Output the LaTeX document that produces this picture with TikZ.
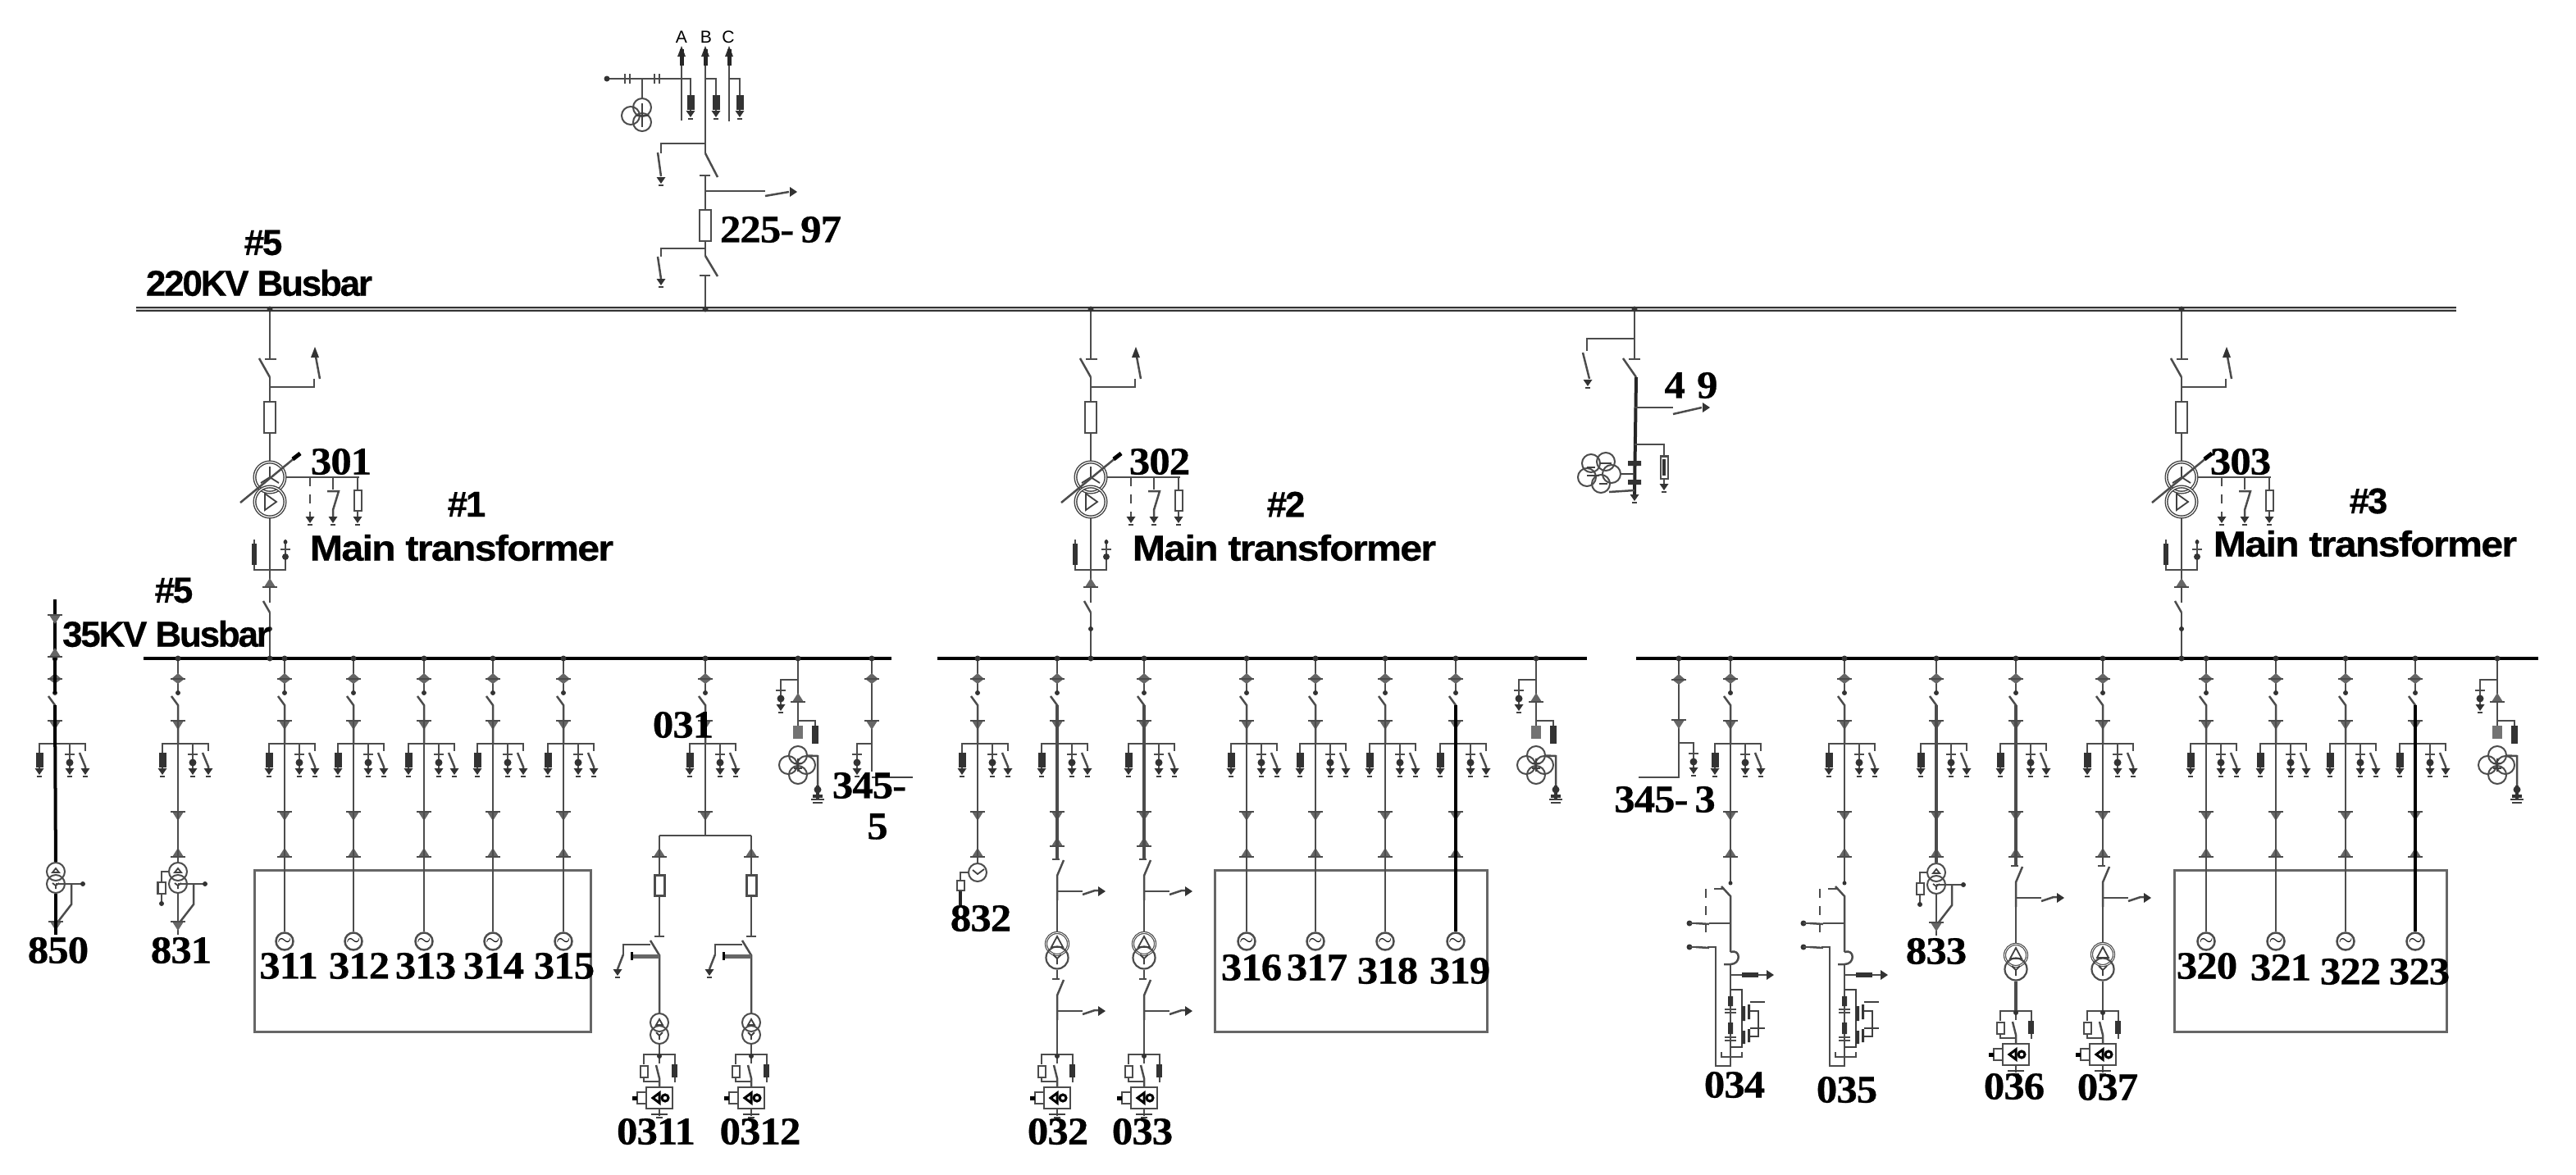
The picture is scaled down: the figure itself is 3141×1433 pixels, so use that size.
\documentclass[tikz,border=0pt]{standalone}
\usepackage{fontspec}
\newfontfamily\numfont[BoldFeatures={FakeBold=0.6},FakeStretch=1.07,LetterSpace=-2]{Liberation Serif}
\newfontfamily\wordfont[BoldFeatures={FakeBold=0.5},LetterSpace=-5]{Liberation Sans}
\newfontfamily\mainfont[BoldFeatures={FakeBold=0.5},FakeStretch=1.1,LetterSpace=-4]{Liberation Sans}
\newfontfamily\phasefont{Liberation Sans}
\begin{document}
\begin{tikzpicture}[x=0.01cm,y=-0.01cm,
wire/.style={draw=black!70,line width=0.025cm},
mid_wire/.style={draw=black!70,line width=0.034cm},
heavy_wire/.style={draw=black,line width=0.04cm},
thin_wire/.style={draw=black!75,line width=0.018cm},
dash_wire/.style={draw=black!70,line width=0.025cm,dashed},
bus_main/.style={draw=black!80,line width=0.02cm,double=black!20,double distance=0.027cm},
bus_low/.style={draw=black,line width=0.045cm},
dark_fill/.style={fill=black!80},
ct_fill/.style={fill=black!60},
group_box/.style={rectangle,draw=black!60,line width=0.03cm,inner sep=0pt},
box_large/.style={rectangle,draw=black!70,line width=0.022cm,fill=white,inner sep=0pt,minimum width=0.14cm,minimum height=0.38cm},
box_mid/.style={rectangle,draw=black!70,line width=0.03cm,fill=white,inner sep=0pt,minimum width=0.12cm,minimum height=0.25cm},
box_small/.style={rectangle,draw=black!70,line width=0.02cm,fill=white,inner sep=0pt,minimum width=0.09cm,minimum height=0.14cm},
box_relay/.style={rectangle,draw=black!70,line width=0.025cm,inner sep=0pt,minimum width=0.32cm,minimum height=0.26cm},
trafo_main/.style={circle,draw=black!75,line width=0.014cm,double,double distance=0.012cm,inner sep=0pt,minimum size=0.37cm},
trafo_style/.style={circle,draw=black!70,line width=0.02cm,inner sep=0pt,minimum size=0.22cm},
trafo_large/.style={circle,draw=black!70,line width=0.022cm,inner sep=0pt,minimum size=0.27cm},
trafo_ring/.style={trafo_large,line width=0.012cm,double,double distance=0.008cm},
gen_style/.style={circle,draw=black!70,line width=0.025cm,inner sep=0pt,minimum size=0.21cm,font=\tiny},
num_style/.style={inner sep=0pt,font=\numfont\fontsize{13.5pt}{14pt}\selectfont\bfseries},
word_style/.style={inner sep=0pt,font=\wordfont\fontsize{12.5pt}{14pt}\selectfont\bfseries},
main_style/.style={inner sep=0pt,font=\mainfont\fontsize{12.5pt}{14pt}\selectfont\bfseries},
phase_style/.style={inner sep=0pt,font=\phasefont\fontsize{6pt}{7pt}\selectfont},
tip_up/.pic={\fill[dark_fill] (0,0) -- (5,13) -- (-5,13) -- cycle;},
tip_down/.pic={\fill[dark_fill] (-5.5,0) -- (5.5,0) -- (0,8) -- cycle; \draw[thin_wire] (-3,10) -- (3,10);},
tip_right/.pic={\fill[dark_fill] (0,-6) -- (0,6) -- (9,0) -- cycle;},
ct_up/.pic={\fill[ct_fill] (0,-8) -- (7,3) -- (-7,3) -- cycle; \draw[wire] (-9,3) -- (9,3);},
ct_down/.pic={\fill[ct_fill] (0,8) -- (7,-3) -- (-7,-3) -- cycle; \draw[wire] (-9,-3) -- (9,-3);},
ct_both/.pic={\fill[ct_fill] (0,-7) -- (8,0) -- (0,6) -- (-8,0) -- cycle; \draw[wire] (-9,0) -- (9,0);},
arrester_unit/.pic={\draw[wire] (0,0) -- (0,32); \fill[dark_fill] (-4.5,11) rectangle (4.5,29); \pic at (0,30) {tip_down};},
cap_unit/.pic={\draw[wire] (0,0) -- (0,32); \draw[wire] (-6,13) -- (6,13); \fill[dark_fill] (0,23) circle[radius=4.5]; \pic at (0,30) {tip_down};},
sw_unit/.pic={\draw[wire] (0,0) -- (0,9); \draw[wire] (-7,11) -- (0,28) -- (0,32); \pic at (0,30) {tip_down};},
feeder_gear/.pic={\draw[wire] (0,0) -- (0,42); \fill[dark_fill] (0,0) circle[radius=3.5]; \fill[dark_fill] (0,42) circle[radius=3]; \pic at (0,25) {ct_both}; \draw[wire] (-8,46) -- (0,57) -- (0,104); \pic at (0,79) {ct_down}; \draw[wire] (-19,115) -- (-19,104) -- (37,104) -- (37,112); \pic at (-19,104) {arrester_unit}; \pic at (18,104) {cap_unit}; \pic at (37,104) {sw_unit};},
feeder_cts/.pic={\pic at (0,0) {ct_down}; \pic at (0,49) {ct_up};},
gen_feeder/.pic={\pic at (0,0) {feeder_gear}; \pic at (0,190) {feeder_cts}; \coordinate (k) at (0,57); \node[gen_style] (g) at (0,345) {$\sim$}; \draw[wire] (k) -- (g);},
local_xfmr/.pic={\node[trafo_style] (a) at (0,0) {}; \node[trafo_style] (b) at (0,15) {}; \draw[thin_wire] (-4,1) -- (0,-4) -- (4,1) -- cycle; \draw[thin_wire] (-4,14) -- (0,17) -- (4,14) (0,17) -- (0,21); \draw[wire] (b) -- (0,77); \draw[wire] (0,15) -- (33,15); \fill[dark_fill] (33,15) circle[radius=3]; \draw[wire] (19,15) -- (19,40) -- (2,62); \pic at (0,64) {ct_down};},
local_fuse/.pic={\draw[wire] (-10,0) -- (-20,0) -- (-20,12); \node[box_small] (f) at (-20,20) {}; \draw[wire] (f) -- (-20,39); \fill[dark_fill] (-20,39) circle[radius=3];},
switch_tap/.pic={\draw[wire] (-6,0) -- (3,0); \draw[wire] (8,1) -- (0,20) -- (0,50); \draw[wire] (0,39) -- (31,39); \draw[wire] (31,43) -- (46,38) -- (50,38); \pic at (50,39) {tip_right};},
relay_unit/.pic={\draw[wire] (-19,12) -- (-19,0) -- (19,0) -- (19,12); \draw[wire] (0,0) -- (0,11); \draw[wire] (-4,13) -- (0,29) -- (0,40); \fill[dark_fill] (0,2) circle[radius=3]; \node[box_small] (f) at (-19,21) {}; \draw[wire] (f) -- (-19,33) -- (0,33); \fill[dark_fill] (15,12) rectangle (22,28); \draw[wire] (19,28) -- (19,34); \node[box_relay] (r) at (0,53) {}; \draw[wire] (r.west |- 0,46) -- (-27,46) -- (-27,60) -- (r.west |- 0,60); \draw[line width=0.05cm,black] (-27,53) -- (-33,53); \draw[line width=0.03cm,black] (-8,53) -- (0,47) -- (0,59) -- cycle; \draw[line width=0.03cm,black] (7,53) circle[radius=4]; \draw[wire] (r) -- (0,75); \draw[thin_wire] (-10,73) -- (10,73); \draw[thin_wire] (-4,77) -- (4,77);},
aux_column/.pic={\pic at (0,0) {switch_tap}; \node[trafo_ring] (a) at (0,103) {}; \node[trafo_large] (b) at (0,120) {}; \draw[thin_wire] (-7,107) -- (0,94) -- (7,107) -- cycle; \draw[thin_wire] (-5,116) -- (0,121) -- (5,116) (0,121) -- (0,128); \draw[wire] (0,50) -- (a); \draw[wire] (b) -- (0,146); \pic at (0,146) {switch_tap}; \draw[wire] (0,196) -- (0,238); \pic at (0,238) {relay_unit};},
split_leg/.pic={\pic at (0,23) {ct_up}; \node[box_mid] (s) at (0,61) {}; \draw[wire] (0,0) -- (s); \draw[wire] (s) -- (0,123); \draw[wire] (-6,123) -- (6,123); \node[trafo_style] (a) at (0,228) {}; \node[trafo_style] (b) at (0,243) {}; \draw[wire] (-11,128) -- (0,146) -- (a); \draw[wire] (-11,133) -- (-44,133) -- (-44,145); \draw[wire] (-44,145) -- (-51,163); \pic at (-51,163) {tip_down}; \draw[line width=0.05cm,black!60] (0,147) -- (-34,147); \draw[line width=0.03cm,black] (-34,142) -- (-34,152); \draw[thin_wire] (-4,231) -- (0,224) -- (4,231) -- cycle; \draw[thin_wire] (-4,240) -- (0,244) -- (4,240) (0,244) -- (0,249); \draw[wire] (b) -- (0,267); \pic at (0,267) {relay_unit};},
pt_cluster/.pic={\draw[wire] (0,0) -- (0,86); \fill[dark_fill] (0,0) circle[radius=3.5]; \draw[wire] (0,26) -- (-21,26) -- (-21,32); \pic at (-21,26) {cap_unit}; \pic at (0,50) {ct_up}; \draw[wire] (0,76) -- (21,76) -- (21,84); \fill[dark_fill] (17,82) rectangle (25,104); \fill[black!55] (-6,82) rectangle (6,98); \node[trafo_style] (a) at (0,118) {}; \node[trafo_style] (b) at (0,142) {}; \node[trafo_style] (c) at (-12,130) {}; \node[trafo_style] (d) at (10,130) {}; \draw[thin_wire] (-5,128) -- (5,128) (-5,134) -- (5,134) (0,122) -- (0,138); \draw[wire] (a) -- (24,119) -- (24,155); \fill[dark_fill] (24,160) circle[radius=4.5]; \draw[line width=0.035cm,black!80] (18,168) -- (30,168) (24,155) -- (24,172); \draw[thin_wire] (16,172) -- (32,172) (18,176) -- (30,176);},
reactor_column/.pic={\draw[wire] (0,-34) -- (0,0); \fill[dark_fill] (0,0) circle[radius=2.5]; \draw[wire] (-11,4) -- (0,16) -- (0,84); \draw[dash_wire] (-9,7) -- (-30,7) -- (-30,66); \draw[wire] (0,49) -- (-26,49); \draw[wire] (-26,50) -- (-42,49); \draw[wire] (-26,79) -- (-42,78); \fill[dark_fill] (-50,49) circle[radius=3.5]; \draw[wire] (-50,49) -- (-42,49); \fill[dark_fill] (-50,78) circle[radius=3.5]; \draw[wire] (-50,78) -- (-42,78); \draw[wire] (-28,78) -- (-18,78) -- (-18,223) -- (0,223) -- (0,99); \draw[wire] (0,84) .. controls (13,80) and (13,99) .. (0,99) -- (-8,99); \draw[wire] (0,112) -- (44,112); \fill[dark_fill] (14,109) rectangle (34,115); \pic at (44,112) {tip_right}; \draw[thin_wire] (0,130) -- (14,130) -- (14,200) -- (0,200); \fill[dark_fill] (-3,138) rectangle (3,150) (-3,170) rectangle (3,184); \draw[wire] (-7,154) -- (7,154) (-7,158) -- (7,158) (-7,188) -- (7,188) (-7,192) -- (7,192); \fill[dark_fill] (14,150) rectangle (18,168) (21,148) rectangle (24,166) (14,180) rectangle (18,196) (21,178) rectangle (24,194); \draw[thin_wire] (24,145) -- (42,145) (24,177) -- (42,177) (24,156) -- (34,156) -- (34,187) -- (24,187); \draw[wire] (-11,206) -- (-11,212) -- (14,212) -- (14,206);},
main_branch/.pic={\draw[wire] (0,0) -- (0,61); \fill[dark_fill] (0,0) circle[radius=3.5]; \draw[wire] (-6,61) -- (8,61); \draw[wire] (-13,60) -- (0,83); \coordinate (k) at (0,83); \node[box_large] (s) at (0,132) {}; \node[trafo_main] (a) at (0,205) {}; \node[trafo_main] (b) at (0,235) {}; \draw[wire] (k) -- (s); \draw[wire] (s) -- (a); \draw[wire] (0,95) -- (54,95) -- (54,85); \draw[wire] (61,85) -- (56,58); \pic at (55,46) {tip_up}; \draw[thin_wire] (0,205) -- (0,192) (0,205) -- (-11,212) (0,205) -- (11,212); \draw[thin_wire] (-6,225) -- (8,235) -- (-6,245) -- cycle; \draw[wire] (-36,236) -- (37,176); \draw[line width=0.05cm,black] (28,183) -- (37,176); \draw[wire] (a.east) -- (109,205); \draw[dash_wire] (49,205) -- (49,253); \pic at (49,253) {tip_down}; \draw[wire] (77,205) -- (77,220); \draw[wire] (70,222) -- (84,222) -- (77,245) -- (77,253); \pic at (77,253) {tip_down}; \draw[wire] (107,205) -- (107,253); \node[box_small,minimum height=0.25cm] (f) at (107,233) {}; \pic at (107,253) {tip_down}; \coordinate (k2) at (0,358); \coordinate (k3) at (0,370); \coordinate (e) at (0,426); \draw[wire] (b) -- (k2); \draw[wire] (k3) -- (e); \draw[wire] (-8,356) -- (k3); \draw[wire] (-19,281) -- (-19,318) -- (19,318) -- (19,281); \fill[dark_fill] (-22,286) rectangle (-16,312); \draw[wire] (13,293) -- (25,293); \fill[dark_fill] (19,302) circle[radius=4] (19,284) circle[radius=2.5]; \pic at (0,336) {ct_up}; \fill[dark_fill] (0,390) circle[radius=3] (0,426) circle[radius=3.5];}]
\useasboundingbox (0,0) rectangle (3141,1433);
\coordinate (bus220w) at (166,377);
\coordinate (bus220e) at (2995,377);
\coordinate (bus35a) at (175,803);
\coordinate (bus35b) at (1087,803);
\coordinate (bus35c) at (1143,803);
\coordinate (bus35d) at (1935,803);
\coordinate (bus35e) at (1995,803);
\coordinate (bus35f) at (3095,803);
\node[group_box,minimum width=4.09cm,minimum height=1.96cm] (box1) at (515.5,1160) {};
\node[group_box,minimum width=3.31cm,minimum height=1.96cm] (box2) at (1647.5,1160) {};
\node[group_box,minimum width=3.31cm,minimum height=1.96cm] (box3) at (2817.5,1160) {};
\draw[bus_main] (bus220w) -- (bus220e);
\draw[bus_low] (bus35a) -- (bus35b);
\draw[bus_low] (bus35c) -- (bus35d);
\draw[bus_low] (bus35e) -- (bus35f);
\coordinate (pa) at (831,60);
\coordinate (pb) at (860,60);
\coordinate (pc) at (889,60);
\coordinate (pa_end) at (831,147);
\coordinate (pc_end) at (889,148);
\coordinate (pb_end) at (860,187);
\coordinate (lk1) at (875,216);
\coordinate (lt1) at (860,214);
\node[box_large] (b297) at (860,275) {};
\coordinate (lk2) at (875,337);
\coordinate (lt2) at (860,336);
\coordinate (la) at (860,377);
\node[phase_style] (na) at (831,45) {A};
\node[phase_style] (nb) at (861,45) {B};
\node[phase_style] (nc) at (888,45) {C};
\draw[wire] (pa) -- (pa_end);
\draw[wire] (pb) -- (pb_end);
\draw[wire] (pc) -- (pc_end);
\pic at (831,56) {tip_up};
\pic at (860,56) {tip_up};
\pic at (889,56) {tip_up};
\draw[line width=0.05cm,black!85] (831,60) -- (831,80) (860,60) -- (860,80) (889,60) -- (889,80);
\draw[wire] (740,96) -- (831,96) -- (842,96) -- (842,110);
\draw[wire] (860,96) -- (873,96) -- (873,110);
\draw[wire] (889,96) -- (902,96) -- (902,110);
\pic at (842,105) {arrester_unit};
\pic at (873,105) {arrester_unit};
\pic at (902,105) {arrester_unit};
\fill[dark_fill] (740,96) circle[radius=3.5];
\draw[wire] (762,90) -- (762,102) (768,90) -- (768,102) (798,90) -- (798,102) (804,90) -- (804,102);
\node[trafo_style] (c1) at (769,141) {};
\node[trafo_style] (c2) at (783,131) {};
\node[trafo_style] (c3) at (783,149) {};
\draw[wire] (783,96) -- (c2);
\draw[thin_wire] (776,141) -- (791,141) (783,126) -- (783,155);
\draw[wire] (pb_end) -- (lk1);
\draw[wire] (853,214) -- (866,214);
\draw[wire] (lt1) -- (b297);
\draw[wire] (860,175) -- (806,175) -- (806,187);
\draw[wire] (802,186) -- (806,215);
\pic at (806,216) {tip_down};
\draw[wire] (860,233) -- (933,233);
\draw[wire] (933,239) -- (962,234);
\pic at (963,234) {tip_right};
\draw[wire] (b297) -- (860,312);
\draw[wire] (860,312) -- (lk2);
\draw[wire] (853,336) -- (866,336);
\draw[wire] (lt2) -- (la);
\fill[dark_fill] (la) circle[radius=3.5];
\draw[wire] (860,303) -- (806,303) -- (806,313);
\draw[wire] (802,313) -- (806,340);
\pic at (806,340) {tip_down};
\pic (t1) at (329,377) {main_branch};
\pic (t2) at (1330,377) {main_branch};
\pic (t3) at (2660,377) {main_branch};
\coordinate (col49) at (1993,377);
\coordinate (col49e) at (1993,603);
\draw[wire] (col49) -- (1993,438);
\fill[dark_fill] (col49) circle[radius=3.5];
\draw[wire] (1986,438) -- (2000,438);
\draw[wire] (1979,437) -- (1995,460);
\draw[heavy_wire,draw=black!85] (1995,460) -- (col49e);
\pic at (1993,603) {tip_down};
\draw[wire] (1993,413) -- (1935,413) -- (1935,428);
\draw[wire] (1930,430) -- (1938,462);
\pic at (1936,463) {tip_down};
\draw[wire] (1993,497) -- (2040,497);
\draw[wire] (2040,505) -- (2075,497);
\pic at (2076,497) {tip_right};
\draw[wire] (1993,542) -- (2029,542) -- (2029,556);
\node[box_small,minimum height=0.27cm] (f49) at (2029,570) {};
\fill[dark_fill] (2027,560) rectangle (2031,580);
\draw[wire] (f49) -- (2029,590);
\pic at (2029,590) {tip_down};
\fill[dark_fill] (1985,562) rectangle (2001,568) (1985,585) rectangle (2001,591);
\node[trafo_style] (q1) at (1940,565) {};
\node[trafo_style] (q2) at (1958,563) {};
\node[trafo_style] (q3) at (1935,582) {};
\node[trafo_style] (q4) at (1965,578) {};
\node[trafo_style] (q5) at (1952,590) {};
\draw[thin_wire] (q4) -- (1993,578);
\draw[wire] (1962,600) -- (1993,598);
\draw[thin_wire] (1935,570) -- (1945,570) (1950,565) -- (1965,565) (1935,580) -- (1950,580) (1950,590) -- (1960,590);
\coordinate (x850t) at (67,731);
\coordinate (x850k) at (67,860);
\pic at (67,803) {feeder_gear};
\pic (x850) at (68,1063) {local_xfmr};
\draw[heavy_wire] (x850t) -- (67,846);
\draw[heavy_wire] (x850k) -- (x850a);
\draw[heavy_wire] (x850b) -- (68,1140);
\pic at (67,753) {ct_down};
\pic at (67,798) {ct_up};
\node[num_style] (n850) at (71,1159) {850};
\pic (f831) at (217,803) {feeder_gear};
\pic at (217,993) {feeder_cts};
\pic (x831) at (217,1063) {local_xfmr};
\pic at (217,1063) {local_fuse};
\coordinate (f831k) at (217,860);
\draw[wire] (f831k) -- (x831a);
\node[num_style] (n831) at (221,1159) {831};
\pic (f311) at (347,803) {gen_feeder};
\node[num_style] (n311) at (352,1178) {311};
\pic (f312) at (431,803) {gen_feeder};
\node[num_style] (n312) at (438,1178) {312};
\pic (f313) at (517,803) {gen_feeder};
\node[num_style] (n313) at (519,1178) {313};
\pic (f314) at (601,803) {gen_feeder};
\node[num_style] (n314) at (602,1178) {314};
\pic (f315) at (687,803) {gen_feeder};
\node[num_style] (n315) at (688,1178) {315};
\pic (f031) at (860,803) {feeder_gear};
\pic at (860,993) {ct_down};
\coordinate (f031k) at (860,860);
\coordinate (f031s) at (860,1019);
\draw[wire] (f031k) -- (f031s);
\coordinate (leg1) at (804,1019);
\coordinate (leg2) at (916,1019);
\draw[wire] (leg1) -- (leg2);
\pic (p0311) at (804,1019) {split_leg};
\pic (p0312) at (916,1019) {split_leg};
\node[num_style] (n031) at (833,884) {031};
\node[num_style] (n0311) at (800,1380) {0311};
\node[num_style] (n0312) at (927,1380) {0312};
\pic (pt1) at (973,803) {pt_cluster};
\coordinate (c345a) at (1063,803);
\coordinate (c345b) at (1063,941);
\coordinate (c345c) at (1113,948);
\coordinate (c345d) at (1063,948);
\draw[wire] (c345a) -- (c345b);
\fill[dark_fill] (c345a) circle[radius=3.5];
\pic at (1063,828) {ct_both};
\pic at (1063,882) {ct_down};
\draw[wire] (1063,907) -- (1045,907) -- (1045,912);
\pic at (1045,907) {cap_unit};
\draw[thin_wire] (c345d) -- (c345c);
\node[num_style] (n345a) at (1060,958) {345-};
\node[num_style] (n345b) at (1070,1008) {5};
\pic (f832) at (1192,803) {feeder_gear};
\pic at (1192,993) {feeder_cts};
\node[trafo_style] (g832) at (1192,1064) {};
\coordinate (f832k) at (1192,860);
\draw[wire] (f832k) -- (g832);
\draw[thin_wire] (1186,1061) -- (1192,1066) -- (1200,1060);
\node[box_small,minimum height=0.12cm] (b832) at (1171,1080) {};
\draw[wire] (g832) -- (1171,1064) -- (b832);
\draw[heavy_wire,draw=black!85] (b832) -- (1171,1104);
\node[num_style] (n832) at (1196,1120) {832};
\pic (f032) at (1289,803) {feeder_gear};
\pic at (1289,993) {ct_down};
\pic at (1289,1029) {ct_up};
\coordinate (f032k) at (1289,860);
\coordinate (f032s) at (1289,1048);
\draw[mid_wire] (f032k) -- (f032s);
\pic (c032) at (1289,1048) {aux_column};
\node[num_style] (n032) at (1290,1380) {032};
\pic (f033) at (1395,803) {feeder_gear};
\pic at (1395,993) {ct_down};
\pic at (1395,1029) {ct_up};
\coordinate (f033k) at (1395,860);
\coordinate (f033s) at (1395,1048);
\draw[mid_wire] (f033k) -- (f033s);
\pic (c033) at (1395,1048) {aux_column};
\node[num_style] (n033) at (1393,1380) {033};
\pic (f316) at (1520,803) {gen_feeder};
\node[num_style] (n316) at (1526,1180) {316};
\pic (f317) at (1604,803) {gen_feeder};
\node[num_style] (n317) at (1606,1180) {317};
\pic (f318) at (1689,803) {gen_feeder};
\node[num_style] (n318) at (1692,1184) {318};
\pic (f319) at (1775,803) {gen_feeder};
\draw[heavy_wire] (f319k) -- (f319g);
\node[num_style] (n319) at (1780,1184) {319};
\pic (pt2) at (1873,803) {pt_cluster};
\coordinate (c3453a) at (2047,803);
\coordinate (c3453b) at (2047,948);
\coordinate (c3453c) at (1998,948);
\draw[wire] (c3453a) -- (c3453b) -- (c3453c);
\fill[dark_fill] (c3453a) circle[radius=3.5];
\pic at (2047,829) {ct_both};
\pic at (2047,881) {ct_down};
\draw[wire] (2047,906) -- (2065,906) -- (2065,912);
\pic at (2065,906) {cap_unit};
\node[num_style] (n3453) at (2030,975) {345-\,3};
\pic (f034) at (2110,803) {feeder_gear};
\pic at (2110,993) {feeder_cts};
\coordinate (f034k) at (2110,860);
\coordinate (f034s) at (2110,1043);
\draw[wire] (f034k) -- (f034s);
\pic (r034) at (2110,1077) {reactor_column};
\node[num_style] (n034) at (2115,1323) {034};
\pic (f035) at (2249,803) {feeder_gear};
\pic at (2249,993) {feeder_cts};
\coordinate (f035k) at (2249,860);
\coordinate (f035s) at (2249,1043);
\draw[wire] (f035k) -- (f035s);
\pic (r035) at (2249,1077) {reactor_column};
\node[num_style] (n035) at (2252,1329) {035};
\pic (f833) at (2361,803) {feeder_gear};
\pic at (2361,993) {feeder_cts};
\pic (x833) at (2361,1064) {local_xfmr};
\pic at (2361,1064) {local_fuse};
\coordinate (f833k) at (2361,860);
\draw[mid_wire] (f833k) -- (x833a);
\node[num_style] (n833) at (2361,1160) {833};
\pic (f036) at (2458,803) {feeder_gear};
\pic at (2458,993) {feeder_cts};
\coordinate (f036k) at (2458,860);
\coordinate (f036s) at (2458,1056);
\draw[mid_wire] (f036k) -- (f036s);
\pic at (2458,1056) {switch_tap};
\node[trafo_ring] (t036a) at (2458,1165) {};
\node[trafo_large] (t036b) at (2458,1182) {};
\draw[thin_wire] (2451,1169) -- (2458,1156) -- (2465,1169) -- cycle;
\draw[thin_wire] (2453,1178) -- (2458,1183) -- (2463,1178) (2458,1183) -- (2458,1190);
\draw[wire] (2458,1106) -- (t036a);
\draw[mid_wire] (t036b) -- (2458,1233);
\pic at (2458,1233) {relay_unit};
\node[num_style] (n036) at (2456,1325) {036};
\pic (f037) at (2564,803) {feeder_gear};
\pic at (2564,993) {feeder_cts};
\coordinate (f037k) at (2564,860);
\coordinate (f037s) at (2564,1056);
\draw[wire] (f037k) -- (f037s);
\pic at (2564,1056) {switch_tap};
\node[trafo_ring] (t037a) at (2564,1164) {};
\node[trafo_large] (t037b) at (2564,1182) {};
\draw[thin_wire] (2557,1168) -- (2564,1155) -- (2571,1168) -- cycle;
\draw[thin_wire] (2559,1178) -- (2564,1183) -- (2569,1178) (2564,1183) -- (2564,1190);
\draw[wire] (2564,1106) -- (t037a);
\draw[wire] (t037b) -- (2564,1233);
\pic at (2564,1233) {relay_unit};
\node[num_style] (n037) at (2570,1326) {037};
\pic (f320) at (2690,803) {gen_feeder};
\node[num_style] (n320) at (2691,1178) {320};
\pic (f321) at (2775,803) {gen_feeder};
\node[num_style] (n321) at (2781,1180) {321};
\pic (f322) at (2860,803) {gen_feeder};
\node[num_style] (n322) at (2866,1185) {322};
\pic (f323) at (2945,803) {gen_feeder};
\draw[heavy_wire] (f323k) -- (f323g);
\node[num_style] (n323) at (2950,1185) {323};
\pic (pt3) at (3045,803) {pt_cluster};
\node[num_style] (n301) at (416,563) {301};
\node[num_style] (n302) at (1414,563) {302};
\node[num_style] (n303) at (2732,563) {303};
\node[word_style] (h1) at (569,615) {\#1};
\node[word_style] (h2) at (1568,615) {\#2};
\node[word_style] (h3) at (2888,611) {\#3};
\node[main_style] (m1) at (563,668) {Main transformer};
\node[main_style] (m2) at (1566,668) {Main transformer};
\node[main_style] (m3) at (2884,663) {Main transformer};
\node[word_style] (h220) at (321,296) {\#5};
\node[word_style] (n220) at (316,345) {220KV Busbar};
\node[word_style] (h35) at (212,720) {\#5};
\node[word_style] (n35) at (203,773) {35KV Busbar};
\node[num_style] (n22597) at (952,280) {225-\,97};
\node[num_style] (n49) at (2062,470) {4\hspace{0.3em}9};
\end{tikzpicture}
\end{document}
